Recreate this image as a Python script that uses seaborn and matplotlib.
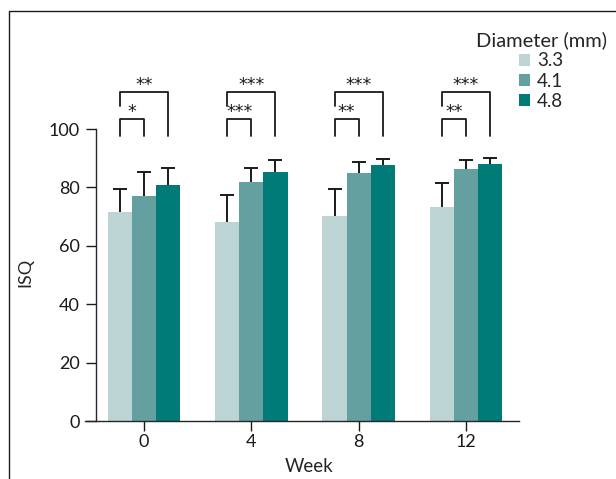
import matplotlib.pyplot as plt
import matplotlib.lines as mlines
import numpy as np
import pandas as pd
import seaborn as sns

# Данные
weeks = ['0', '4', '8', '12']
diameters = ['3.3', '4.1', '4.8']
isq_33 = [71.6, 68.2, 70.2, 73.3]
isq_41 = [77.1, 81.8, 84.9, 86.3]
isq_48 = [80.7, 85.3, 87.7, 88.0]
sd_33 = [7.7, 9.3, 9.1, 8.3]
sd_41 = [8.2, 4.9, 3.9, 3.2]
sd_48 = [5.8, 4.2, 1.9, 2.2]
sig_inner = ['*', '***', '**', '**']     # 3.3 vs 4.1
sig_outer = ['**', '***', '***', '***']  # 3.3 vs 4.8

colors = ['#bdd4d5', '#64a0a0', '#007b78']
line_col = '#1a1a1a'

sns.set_style('ticks')
plt.rcParams['font.family'] = ['Lato', 'DejaVu Sans']
plt.rcParams['axes.linewidth'] = 1.0

df = pd.DataFrame({
    'Week': weeks * 3,
    'Diameter': np.repeat(diameters, len(weeks)),
    'ISQ': isq_33 + isq_41 + isq_48,
})

fig = plt.figure(figsize=(6.16, 4.79), dpi=100)
ax = fig.add_axes([85 / 616, 58 / 479, 434 / 616, 292 / 479])
sns.barplot(data=df, x='Week', y='ISQ', hue='Diameter', palette=colors,
            width=0.674, errorbar=None, saturation=1, linewidth=0,
            edgecolor='none', ax=ax)

# Планки погрешностей (только вверх)
centers = []
for cont, sd in zip(ax.containers, [sd_33, sd_41, sd_48]):
    xs = [b.get_x() + b.get_width() / 2 for b in cont]
    hs = [b.get_height() for b in cont]
    eb = ax.errorbar(xs, hs, yerr=[np.zeros(len(sd)), sd], fmt='none',
                     ecolor=line_col, elinewidth=1.4, capsize=5, capthick=1.4)
    eb[1][0].set_visible(False)  # без нижней шапки
    centers.append(xs)

# Скобки значимости
for i in range(len(weeks)):
    x0, x1, x2 = centers[0][i], centers[1][i], centers[2][i]
    ax.plot([x0, x0, x1, x1], [97.6, 103.5, 103.5, 97.6], color=line_col,
            lw=1.3, clip_on=False)
    ax.text((x0 + x1) / 2, 102.6, sig_inner[i], ha='center', va='bottom',
            fontsize=12.5, color=line_col, family='DejaVu Sans')
    ax.plot([x0, x0, x2, x2], [108.0, 112.8, 112.8, 97.6], color=line_col,
            lw=1.3, clip_on=False)
    ax.text((x0 + x2) / 2, 111.9, sig_outer[i], ha='center', va='bottom',
            fontsize=12.5, color=line_col, family='DejaVu Sans')

ax.set_xlim(-0.55, 3.494)
ax.set_ylim(0, 100)
ax.set_yticks([0, 20, 40, 60, 80, 100])
ax.spines['top'].set_visible(False)
ax.spines['right'].set_visible(False)
ax.spines['left'].set_position(('data', -0.45))
ax.tick_params(axis='both', length=7.2, width=1.0, labelsize=13, colors=line_col)
ax.tick_params(axis='y', pad=4.5)
ax.tick_params(axis='x', pad=2)

ax.set_ylabel('ISQ', fontsize=13)
ax.set_xlabel('Week', fontsize=13.5)
ax.yaxis.set_label_coords(-0.12, 0.51)
ax.xaxis.set_label_coords(0.516, -0.125)
ax.xaxis.label.set_va('top')

handles, labels = ax.get_legend_handles_labels()
ax.get_legend().remove()
fig.legend(handles, labels, title='Diameter (mm)', loc='upper center',
           bbox_to_anchor=(541 / 616, 1 - 22 / 479), frameon=False,
           fontsize=13.5, title_fontsize=14.5, handlelength=0.6, handleheight=0.6,
           handletextpad=0.4, labelspacing=0.17, borderpad=0)

# Рамка рисунка
fig.add_artist(mlines.Line2D([9 / 616, 9 / 616, 1], [0, 1 - 11 / 479, 1 - 11 / 479],
                             color=line_col, lw=1.0))

fig.savefig('out.png', dpi=100)
